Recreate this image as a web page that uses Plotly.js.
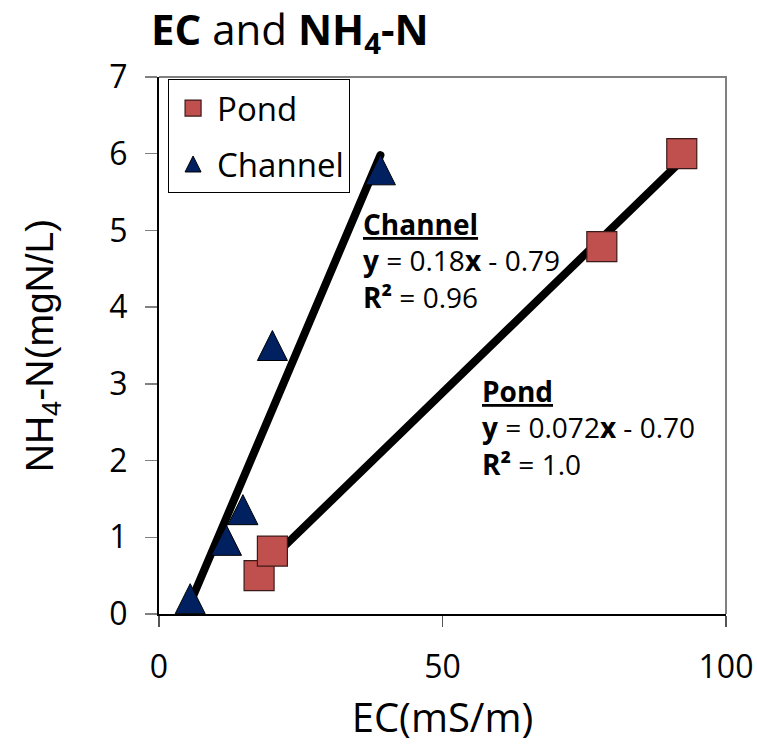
<!DOCTYPE html>
<html>
<head>
<meta charset="utf-8">
<script src="https://cdn.plot.ly/plotly-3.0.1.min.js"></script>
<style>
html,body{margin:0;padding:0;background:#fff;}
.scatterlayer .js-line{stroke-linecap:round !important;}
</style>
</head>
<body>
<div id="chart" style="width:757px;height:745px;"></div>
<script>
// ---- data ----
var pondEC = [17.65, 20.0, 78.1, 92.2];
var pondNH4 = [0.50, 0.82, 4.79, 6.0];
var channelEC = [5.5, 11.9, 14.8, 20.0, 39.05];
var channelNH4 = [0.2, 0.96, 1.36, 3.5, 5.79];
var seriesNames = ['Pond', 'Channel'];
var xTicks = [0, 50, 100];
var yTicks = [0, 1, 2, 3, 4, 5, 6, 7];

function fit(xs, ys) {
  var n = xs.length, mx = 0, my = 0;
  for (var i = 0; i < n; i++) { mx += xs[i]; my += ys[i]; }
  mx /= n; my /= n;
  var sxx = 0, sxy = 0;
  for (var j = 0; j < n; j++) { sxx += (xs[j]-mx)*(xs[j]-mx); sxy += (xs[j]-mx)*(ys[j]-my); }
  var b = sxy / sxx, a = my - b * mx;
  var x0 = Math.min.apply(null, xs), x1 = Math.max.apply(null, xs);
  return {x: [x0, x1], y: [a + b * x0, a + b * x1]};
}
var pondFit = fit(pondEC, pondNH4);
var chanFit = fit(channelEC, channelNH4);

var FONT = 'Open Sans, sans-serif';
var traces = [
  {x: pondFit.x, y: pondFit.y, mode: 'lines', line: {color: '#000', width: 8}, showlegend: false, hoverinfo: 'skip'},
  {x: chanFit.x, y: chanFit.y, mode: 'lines', line: {color: '#000', width: 8}, showlegend: false, hoverinfo: 'skip'},
  {x: pondEC, y: pondNH4, mode: 'markers', name: seriesNames[0], showlegend: false,
   marker: {symbol: 'square', size: 30, color: '#C0504D', line: {color: '#3b1a19', width: 1.2}}},
  {x: channelEC, y: channelNH4, mode: 'markers', name: seriesNames[1], showlegend: false,
   marker: {symbol: 'arrow-down', angle: 180, standoff: 15, size: 30, color: '#002060', line: {color: '#000', width: 1}}},
  // legend entries
  {x: [null], y: [null], mode: 'markers', name: seriesNames[0], legendgroup: 'p',
   marker: {symbol: 'square', size: 16, color: '#C0504D', line: {color: '#3b1a19', width: 1.2}}},
  {x: [null], y: [null], mode: 'markers', name: seriesNames[1], legendgroup: 'c',
   marker: {symbol: 'arrow-up', standoff: 8, size: 16, color: '#002060', line: {color: '#000', width: 1}}}
];

var layout = {
  width: 757, height: 745,
  margin: {l: 159, r: 31, t: 77, b: 131},
  paper_bgcolor: '#fff', plot_bgcolor: '#fff',
  font: {family: FONT, color: '#000'},
  title: {text: '<b>EC</b> and <b>NH<sub>4</sub>-N</b>', font: {family: FONT, size: 42, color: '#000'},
          x: 151/757, xanchor: 'left', xref: 'container', y: 1 - 30/745, yanchor: 'middle', yref: 'container'},
  xaxis: {range: [0, 100], tickvals: xTicks, ticktext: xTicks.map(String), ticks: 'outside', ticklen: 11, tickwidth: 1.5,
          tickcolor: '#555', showline: true, linecolor: '#000', linewidth: 2, showgrid: false, zeroline: false,
          ticklabelstandoff: 13,
          tickfont: {family: FONT, size: 32, color: '#000'},
          title: {text: 'EC(mS/m)', font: {family: FONT, size: 40, color: '#000'}, standoff: 18}},
  yaxis: {range: [0, 7], tickvals: yTicks, ticktext: yTicks.map(String), ticks: 'outside', ticklen: 12, tickwidth: 1.5,
          tickcolor: '#808080', showline: true, linecolor: '#000', linewidth: 2, showgrid: false, zeroline: false,
          ticklabelstandoff: 11,
          tickfont: {family: FONT, size: 32, color: '#000'},
          title: {text: 'NH<sub>4</sub>-N(mgN/L)', font: {family: 'Liberation Sans, Arial, sans-serif', size: 39, color: '#000'}, standoff: 44}},
  legend: {x: 0.016, y: 0.996, xanchor: 'left', yanchor: 'top', bordercolor: '#000', borderwidth: 1, bgcolor: '#fff',
           font: {family: FONT, size: 33, color: '#000'}, traceorder: 'grouped', tracegroupgap: 10, itemwidth: 38},
  shapes: [{type: 'path', xref: 'paper', yref: 'paper', path: 'M 0 1 L 1 1 L 1 0', line: {color: '#808080', width: 2}, layer: 'below'}],
  annotations: [
    {x: 35.6, y: 5.36, xref: 'x', yref: 'y', xanchor: 'left', yanchor: 'top', align: 'left', showarrow: false,
     font: {family: FONT, size: 28, color: '#000'},
     text: '<b><u>Channel</u></b><br><b>y</b> = 0.18<b>x</b> - 0.79<br><b>R²</b> = 0.96'},
    {x: 56.6, y: 3.18, xref: 'x', yref: 'y', xanchor: 'left', yanchor: 'top', align: 'left', showarrow: false,
     font: {family: FONT, size: 28, color: '#000'},
     text: '<b><u>Pond</u></b><br><b>y</b> = 0.072<b>x</b> - 0.70<br><b>R²</b> = 1.0'}
  ]
};

Plotly.newPlot('chart', traces, layout, {displayModeBar: false, staticPlot: true});
</script>
</body>
</html>
